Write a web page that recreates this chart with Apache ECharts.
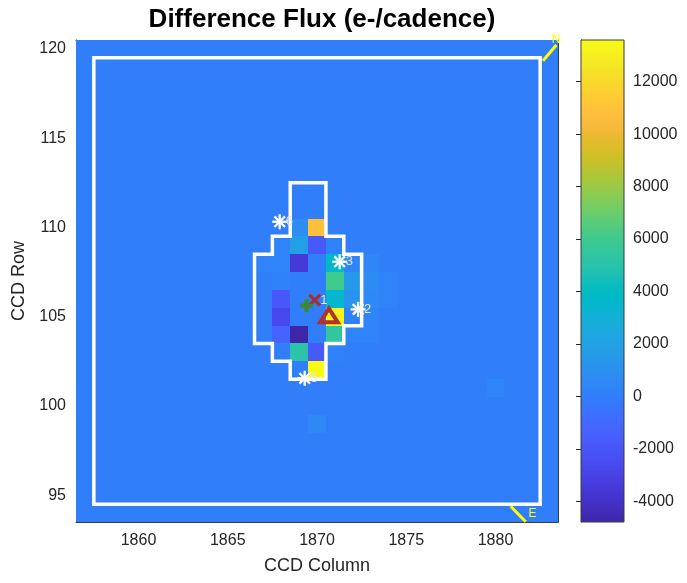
<!DOCTYPE html>
<html>
<head>
<meta charset="utf-8">
<script src="https://cdn.jsdelivr.net/npm/echarts@6/dist/echarts.min.js"></script>
<style>html,body{margin:0;padding:0;background:#fff}#chart{width:687px;height:583px}</style>
</head>
<body>
<div id="chart"></div>
<script>
// ---------- data ----------
const TITLE = 'Difference Flux (e-/cadence)';
const X_NAME = 'CCD Column';
const Y_NAME = 'CCD Row';
const COLUMNS = [1857,1858,1859,1860,1861,1862,1863,1864,1865,1866,1867,1868,1869,1870,1871,1872,1873,1874,1875,1876,1877,1878,1879,1880,1881,1882,1883];
const ROWS = [120,119,118,117,116,115,114,113,112,111,110,109,108,107,106,105,104,103,102,101,100,99,98,97,96,95,94];
// difference flux per pixel, one line per CCD row (top row 120 first), columns 1857..1883
const FLUX = [
 [0,0,0,0,0,0,0,0,0,0,0,0,0,0,0,0,0,0,0,0,0,0,0,0,0,0,0], //120
 [0,0,0,0,0,0,0,0,0,0,0,0,0,0,0,0,0,0,0,0,0,0,0,0,0,0,0], //119
 [0,0,0,0,0,0,0,0,0,0,0,0,0,0,0,0,0,0,0,0,0,0,0,0,0,0,0], //118
 [0,0,0,0,0,0,0,0,0,0,0,0,0,0,0,0,0,0,0,0,0,0,0,0,0,0,0], //117
 [0,0,0,0,0,0,0,0,0,0,0,0,0,0,0,0,0,0,0,0,0,0,0,0,0,0,0], //116
 [0,0,0,0,0,0,0,0,0,0,0,0,0,0,0,0,0,0,0,0,0,0,0,0,0,0,0], //115
 [0,0,0,0,0,0,0,0,0,0,0,0,0,0,0,0,0,0,0,0,0,0,0,0,0,0,0], //114
 [0,0,0,0,0,0,0,0,0,0,0,0,0,0,0,0,0,0,0,0,0,0,0,0,0,0,0], //113
 [0,0,0,0,0,0,0,0,0,0,0,0,0,0,0,0,0,0,0,0,0,0,0,0,0,0,0], //112
 [0,0,0,0,0,0,0,0,0,0,0,0,0,0,0,0,0,0,0,0,0,0,0,0,0,0,0], //111
 [0,0,0,0,0,0,0,0,0,0,0,0,800,10800,0,0,0,0,0,0,0,0,0,0,0,0,0], //110
 [0,0,0,0,0,0,0,0,0,0,0,300,1900,-1800,200,0,0,0,0,0,0,0,0,0,0,0,0], //109
 [0,0,0,0,0,0,0,0,0,0,300,300,-3500,0,3700,300,400,0,0,0,0,0,0,0,0,0,0], //108
 [0,0,0,0,0,0,0,0,0,0,0,200,0,0,6000,1500,700,300,0,0,0,0,0,0,0,0,0], //107
 [0,0,0,0,0,0,0,0,0,0,0,-1900,0,0,3500,1200,500,300,0,0,0,0,0,0,0,0,0], //106
 [0,0,0,0,0,0,0,0,0,0,0,-2700,0,0,13200,100,300,0,0,0,0,0,0,0,0,0,0], //105
 [0,0,0,0,0,0,0,0,0,0,0,-1300,-4790,0,5400,300,300,0,0,0,0,0,0,0,0,0,0], //104
 [0,0,0,0,0,0,0,0,0,0,0,0,5100,-1800,200,0,0,0,0,0,0,0,0,0,0,0,0], //103
 [0,0,0,0,0,0,0,0,0,0,0,0,0,13590,0,0,0,0,0,0,0,0,0,0,0,0,0], //102
 [0,0,0,0,0,0,0,0,0,0,0,0,0,0,0,0,0,0,0,0,0,0,0,400,0,0,0], //101
 [0,0,0,0,0,0,0,0,0,0,0,0,0,0,0,0,0,0,0,0,0,0,0,0,0,0,0], //100
 [0,0,0,0,0,0,0,0,0,0,0,0,0,500,0,0,0,0,0,0,0,0,0,0,0,0,0], //99
 [0,0,0,0,0,0,0,0,0,0,0,0,0,0,0,0,0,0,0,0,0,0,0,0,0,0,0], //98
 [0,0,0,0,0,0,0,0,0,0,0,0,0,0,0,0,0,0,0,0,0,0,0,0,0,0,0], //97
 [0,0,0,0,0,0,0,0,0,0,0,0,0,0,0,0,0,0,0,0,0,0,0,0,0,0,0], //96
 [0,0,0,0,0,0,0,0,0,0,0,0,0,0,0,0,0,0,0,0,0,0,0,0,0,0,0], //95
 [0,0,0,0,0,0,0,0,0,0,0,0,0,0,0,0,0,0,0,0,0,0,0,0,0,0,0]  //94
];
const X_RANGE = [1856.5, 1883.5];
const Y_RANGE = [93.5, 120.5];
const X_TICKS = [1860, 1865, 1870, 1875, 1880];
const Y_TICKS = [95, 100, 105, 110, 115, 120];
const CLIM = [-4790, 13590];
const CB_TICKS = [-4000, -2000, 0, 2000, 4000, 6000, 8000, 10000, 12000];

// optimal aperture outline (pixel edges)
const APERTURE_COL = [1868.5,1870.5,1870.5,1871.5,1871.5,1872.5,1872.5,1871.5,1871.5,1870.5,1870.5,1868.5,1868.5,1867.5,1867.5,1866.5,1866.5,1867.5,1867.5,1868.5,1868.5];
const APERTURE_ROW = [112.5,112.5,109.5,109.5,108.5,108.5,104.5,104.5,103.5,103.5,101.5,101.5,102.5,102.5,103.5,103.5,108.5,108.5,109.5,109.5,112.5];
// full mask outline
const MASK_COL = [1857.5,1882.5,1882.5,1857.5,1857.5];
const MASK_ROW = [94.5,94.5,119.5,119.5,94.5];

// catalog stars
const STAR_IDS = ['1','2','3','5','6'];
const STAR_COL = [1869.84, 1872.30, 1871.27, 1869.31, 1867.91];
const STAR_ROW = [105.93, 105.41, 108.08, 101.55, 110.32];
const STAR_MARKED = [false, true, true, true, true];

// centroids / target
const DIFF_CENTROID = [1869.87, 105.93];   // x marker
const OOT_CENTROID = [1869.41, 105.62];    // + marker
const TARGET_POS = [1870.67, 105.05];      // triangle

// compass arrows
const NORTH_LINE = [[1882.66, 119.34], [1883.41, 120.22]];
const EAST_LINE = [[1880.85, 94.38], [1881.69, 93.51]];
const COMPASS_TEXT = ['N', 'E'];
const COMPASS_POS = [[1883.15, 120.5], [1881.85, 93.94]];

const PARULA = ['#3E26A8','#402AB4','#422EC0','#4432CB','#4537D5','#463CDE','#4741E5','#4747EB','#484DF0','#4852F4','#4758F8','#465EFB','#4563FD','#4269FE','#3E6FFF','#3875FE','#327CFC','#2F81FA','#2E87F7','#2D8CF3','#2B91EF','#2796EB','#259BE8','#23A0E5','#20A5E3','#1CA9DF','#18ADDB','#12B1D6','#08B5D0','#01B8CA','#02BAC3','#0BBDBD','#19BFB6','#24C1AE','#2CC4A7','#31C69F','#37C897','#3FCA8E','#4ACB84','#57CC7A','#64CD6F','#72CD64','#81CC59','#8FCB4E','#9DC943','#ABC739','#B9C431','#C5C22A','#D1BF27','#DCBD29','#E6BB2D','#F0BA36','#F8BA3D','#FEBE3C','#FEC338','#FEC934','#FCCF30','#FAD62D','#F7DC2A','#F5E327','#F5E924','#F6EF20','#F7F51B','#F9FB15'];

// ---------- chart ----------
const FONT = 'Liberation Sans, Arial, Helvetica, sans-serif';
const TXT = '#262626';
const AXLINE = {show: true, lineStyle: {color: '#3a3a3a', width: 1}};
const plain = v => String(v);

const heatData = [];
ROWS.forEach((r, i) => COLUMNS.forEach((c, j) => heatData.push([c, r, FLUX[i][j]])));

function toPts(xs, ys) { return xs.map((x, i) => [x, ys[i]]); }

function heatItem(params, api) {
  const a = api.coord([api.value(0) - 0.5, api.value(1) + 0.5]);
  const b = api.coord([api.value(0) + 0.5, api.value(1) - 0.5]);
  const x0 = Math.round(a[0]), y0 = Math.round(a[1]), x1 = Math.round(b[0]), y1 = Math.round(b[1]);
  return {type: 'rect', shape: {x: x0, y: y0, width: x1 - x0, height: y1 - y0},
          style: {fill: api.visual('color')}};
}

function starItem(params, api) {
  const i = params.dataIndex;
  const p = api.coord([api.value(0), api.value(1)]);
  const r = 7.5, d = r * 0.7071;
  const ch = [];
  if (STAR_MARKED[i]) {
    [[-r,0,r,0],[0,-r,0,r],[-d,-d,d,d],[-d,d,d,-d]].forEach(s => ch.push({
      type: 'line', shape: {x1: p[0]+s[0], y1: p[1]+s[1], x2: p[0]+s[2], y2: p[1]+s[3]},
      style: {stroke: '#ffffff', lineWidth: 2.3}}));
  }
  ch.push({type: 'text', x: p[0] + 6, y: p[1], style: {text: STAR_IDS[i], fill: '#e6e6e6', fontSize: 13, fontFamily: FONT, align: 'left', verticalAlign: 'middle'}});
  return {type: 'group', children: ch};
}

function crossItem(params, api) {
  const p = api.coord([api.value(0), api.value(1)]);
  const h = 5.5;
  return {type: 'group', children: [
    {type: 'line', shape: {x1: p[0]-h, y1: p[1]-h, x2: p[0]+h, y2: p[1]+h}, style: {stroke: '#A03030', lineWidth: 3.2}},
    {type: 'line', shape: {x1: p[0]-h, y1: p[1]+h, x2: p[0]+h, y2: p[1]-h}, style: {stroke: '#A03030', lineWidth: 3.2}}
  ]};
}

function plusItem(params, api) {
  const p = api.coord([api.value(0), api.value(1)]);
  const h = 6.5;
  return {type: 'group', children: [
    {type: 'line', shape: {x1: p[0]-h, y1: p[1], x2: p[0]+h, y2: p[1]}, style: {stroke: '#3A8A2E', lineWidth: 4}},
    {type: 'line', shape: {x1: p[0], y1: p[1]-h, x2: p[0], y2: p[1]+h}, style: {stroke: '#3A8A2E', lineWidth: 4}}
  ]};
}

function triItem(params, api) {
  const p = api.coord([api.value(0), api.value(1)]);
  return {type: 'polygon', shape: {points: [[p[0], p[1]-7.3], [p[0]+8.8, p[1]+6.5], [p[0]-8.8, p[1]+6.5]]},
          style: {fill: 'none', stroke: '#B4302A', lineWidth: 4, lineJoin: 'miter'}};
}

function compassTextItem(params, api) {
  const p = api.coord([api.value(0), api.value(1)]);
  return {type: 'text', x: p[0], y: p[1], style: {text: COMPASS_TEXT[params.dataIndex], fill: '#ffff00', fontSize: 12, fontFamily: FONT, align: 'left', verticalAlign: 'middle'}};
}

function colorbarItem(params, api) {
  const p0 = api.coord([0, CLIM[0]]);
  const p1 = api.coord([1, CLIM[1]]);
  const stops = PARULA.map((c, i) => ({offset: i / (PARULA.length - 1), color: c}));
  return {type: 'rect', shape: {x: p0[0], y: p1[1], width: p1[0] - p0[0], height: p0[1] - p1[1]},
          style: {fill: new echarts.graphic.LinearGradient(0, 1, 0, 0, stops), stroke: '#3a3a3a', lineWidth: 1}};
}

const chart = echarts.init(document.getElementById('chart'), null, {renderer: 'canvas'});
chart.setOption({
  animation: false,
  backgroundColor: '#ffffff',
  title: {text: TITLE, left: 317, top: 2, textAlign: 'center',
          textStyle: {fontSize: 26, fontWeight: 'bold', color: '#000', fontFamily: FONT}},
  grid: [
    {left: 76, top: 40, width: 482, height: 482},
    {left: 581, top: 40, width: 43, height: 482}
  ],
  visualMap: {type: 'continuous', show: false, seriesIndex: 0, dimension: 2, min: CLIM[0], max: CLIM[1], inRange: {color: PARULA}},
  xAxis: [
    {type: 'value', gridIndex: 0, min: X_RANGE[0], max: X_RANGE[1], position: 'bottom',
     name: X_NAME, nameLocation: 'middle', nameGap: 35, nameTextStyle: {fontSize: 18, color: TXT, fontFamily: FONT},
     axisLine: AXLINE, splitLine: {show: false},
     axisTick: {show: true, inside: true, length: 5, customValues: X_TICKS, lineStyle: {color: TXT}},
     axisLabel: {customValues: X_TICKS, formatter: plain, margin: 11, fontSize: 16, color: TXT, fontFamily: FONT}},
    {type: 'value', gridIndex: 0, min: X_RANGE[0], max: X_RANGE[1], position: 'top',
     axisLine: AXLINE, splitLine: {show: false},
     axisTick: {show: true, inside: true, length: 5, customValues: X_TICKS, lineStyle: {color: TXT}},
     axisLabel: {show: false}},
    {type: 'value', gridIndex: 1, min: 0, max: 1, show: false}
  ],
  yAxis: [
    {type: 'value', gridIndex: 0, min: Y_RANGE[0], max: Y_RANGE[1], position: 'left',
     name: Y_NAME, nameLocation: 'middle', nameGap: 43, nameTextStyle: {fontSize: 18, color: TXT, fontFamily: FONT},
     axisLine: AXLINE, splitLine: {show: false},
     axisTick: {show: true, inside: true, length: 5, customValues: Y_TICKS, lineStyle: {color: TXT}},
     axisLabel: {customValues: Y_TICKS, formatter: plain, margin: 10, fontSize: 16, color: TXT, fontFamily: FONT}},
    {type: 'value', gridIndex: 0, min: Y_RANGE[0], max: Y_RANGE[1], position: 'right',
     axisLine: AXLINE, splitLine: {show: false},
     axisTick: {show: true, inside: true, length: 5, customValues: Y_TICKS, lineStyle: {color: TXT}},
     axisLabel: {show: false}},
    {type: 'value', gridIndex: 1, min: CLIM[0], max: CLIM[1], position: 'right',
     axisLine: AXLINE, splitLine: {show: false},
     axisTick: {show: true, inside: true, length: 5, customValues: CB_TICKS, lineStyle: {color: TXT}},
     axisLabel: {customValues: CB_TICKS, formatter: plain, margin: 9, fontSize: 16, color: TXT, fontFamily: FONT}}
  ],
  series: [
    {type: 'custom', name: 'flux', xAxisIndex: 0, yAxisIndex: 0, data: heatData, encode: {x: 0, y: 1}, renderItem: heatItem, silent: true, z: 1},
    {type: 'line', name: 'mask', xAxisIndex: 0, yAxisIndex: 0, data: toPts(MASK_COL, MASK_ROW), symbol: 'none', silent: true, z: 2,
     lineStyle: {color: '#ffffff', width: 3.5, join: 'miter', cap: 'square'}},
    {type: 'line', name: 'aperture', xAxisIndex: 0, yAxisIndex: 0, data: toPts(APERTURE_COL, APERTURE_ROW), symbol: 'none', silent: true, z: 2,
     lineStyle: {color: '#ffffff', width: 3.5, join: 'miter', cap: 'square'}},
    {type: 'custom', name: 'stars', xAxisIndex: 0, yAxisIndex: 0, data: toPts(STAR_COL, STAR_ROW), encode: {x: 0, y: 1}, renderItem: starItem, silent: true, z: 3},
    {type: 'custom', name: 'diff centroid', xAxisIndex: 0, yAxisIndex: 0, data: [DIFF_CENTROID], encode: {x: 0, y: 1}, renderItem: crossItem, silent: true, z: 4},
    {type: 'custom', name: 'oot centroid', xAxisIndex: 0, yAxisIndex: 0, data: [OOT_CENTROID], encode: {x: 0, y: 1}, renderItem: plusItem, silent: true, z: 5},
    {type: 'custom', name: 'target', xAxisIndex: 0, yAxisIndex: 0, data: [TARGET_POS], encode: {x: 0, y: 1}, renderItem: triItem, silent: true, z: 6},
    {type: 'line', name: 'north', xAxisIndex: 0, yAxisIndex: 0, data: NORTH_LINE, symbol: 'none', silent: true, clip: false, z: 6,
     lineStyle: {color: '#ffff00', width: 3}},
    {type: 'line', name: 'east', xAxisIndex: 0, yAxisIndex: 0, data: EAST_LINE, symbol: 'none', silent: true, clip: false, z: 6,
     lineStyle: {color: '#ffff00', width: 3}},
    {type: 'custom', name: 'compass', xAxisIndex: 0, yAxisIndex: 0, data: COMPASS_POS, encode: {x: 0, y: 1}, renderItem: compassTextItem, silent: true, clip: false, z: 6},
    {type: 'custom', name: 'colorbar', xAxisIndex: 2, yAxisIndex: 2, data: [[0, CLIM[0]]], encode: {x: 0, y: 1}, renderItem: colorbarItem, silent: true, z: 1}
  ]
});
</script>
</body>
</html>
